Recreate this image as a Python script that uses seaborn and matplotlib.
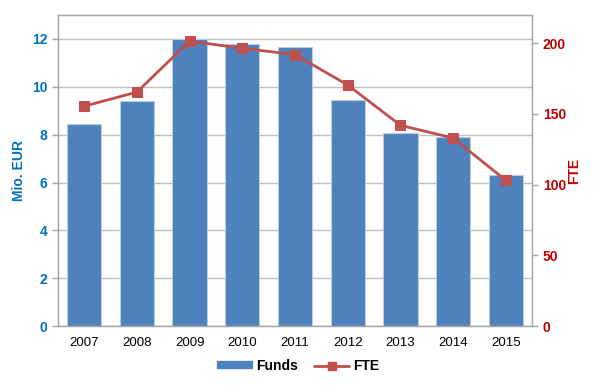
import matplotlib
matplotlib.use("Agg")
import matplotlib.pyplot as plt
import seaborn as sns
import pandas as pd
from matplotlib.lines import Line2D
from matplotlib.patches import Patch

years = ["2007", "2008", "2009", "2010", "2011", "2012", "2013", "2014", "2015"]
funds = [8.45, 9.4, 12.0, 11.8, 11.65, 9.45, 8.08, 7.9, 6.3]
fte = [155.5, 165.5, 201.5, 196.5, 192, 170.5, 142, 133, 103]

df = pd.DataFrame({"year": years, "funds": funds, "fte": fte})

sns.set_style("white")
plt.rcParams["font.family"] = ["Liberation Sans", "DejaVu Sans"]
plt.rcParams["text.color"] = "black"

bar_col = "#4F81BD"
line_col = "#C0504D"
blue_txt = "#0070C0"
red_txt = "#C00000"

fig = plt.figure(figsize=(5.96, 3.85), dpi=100)
ax = fig.add_axes([0.097, 0.153, 0.796, 0.808])

sns.barplot(data=df, x="year", y="funds", color=bar_col, saturation=1,
            width=0.65, edgecolor="#B8CCE4", linewidth=0.8, ax=ax, zorder=2)
ax.set_ylim(0, 13)
ax.set_yticks(range(0, 13, 2))
ax.yaxis.grid(True, color="#BFBFBF", linewidth=1, zorder=0)
ax.set_axisbelow(True)
ax.set_xlabel("")
ax.set_ylabel("Mio. EUR", color=blue_txt, fontsize=10, fontweight="bold", labelpad=4)
ax.tick_params(axis="y", labelcolor=blue_txt, labelsize=10, length=4, width=1)
ax.tick_params(axis="x", labelcolor="black", labelsize=9.5, length=4, width=1)
for t in ax.get_yticklabels():
    t.set_fontweight("bold")
for s in ax.spines.values():
    s.set_color("#A6A6A6")
    s.set_linewidth(1)
ax.tick_params(axis="both", which="both", direction="out", color="#A6A6A6")
ax.set_xlim(-0.5, 8.5)

ax2 = ax.twinx()
sns.lineplot(x=list(range(len(years))), y=fte, ax=ax2, color=line_col,
             marker="s", markersize=7.5, markeredgecolor=line_col,
             linewidth=2, zorder=3)
ax2.set_ylim(0, 220)
ax2.set_yticks(range(0, 201, 50))
ax2.set_ylabel("FTE", color=red_txt, fontsize=10, fontweight="bold", labelpad=1)
ax2.tick_params(axis="y", labelcolor=red_txt, labelsize=10, length=4, width=1, color="#A6A6A6")
for t in ax2.get_yticklabels():
    t.set_fontweight("bold")
for s in ax2.spines.values():
    s.set_color("#A6A6A6")
ax2.grid(False)

handles = [Patch(facecolor=bar_col, edgecolor=bar_col),
           Line2D([0], [0], color=line_col, marker="s", markersize=6, linewidth=2)]
leg = fig.legend(handles, ["Funds", "FTE"], loc="center", bbox_to_anchor=(0.5, 0.05),
                 ncol=2, frameon=False, prop={"weight": "bold", "size": 10},
                 handlelength=2.5, columnspacing=1.2, handleheight=0.35, handletextpad=0.3)
for t in leg.get_texts():
    t.set_color("black")

fig.savefig("out.png", dpi=100)
